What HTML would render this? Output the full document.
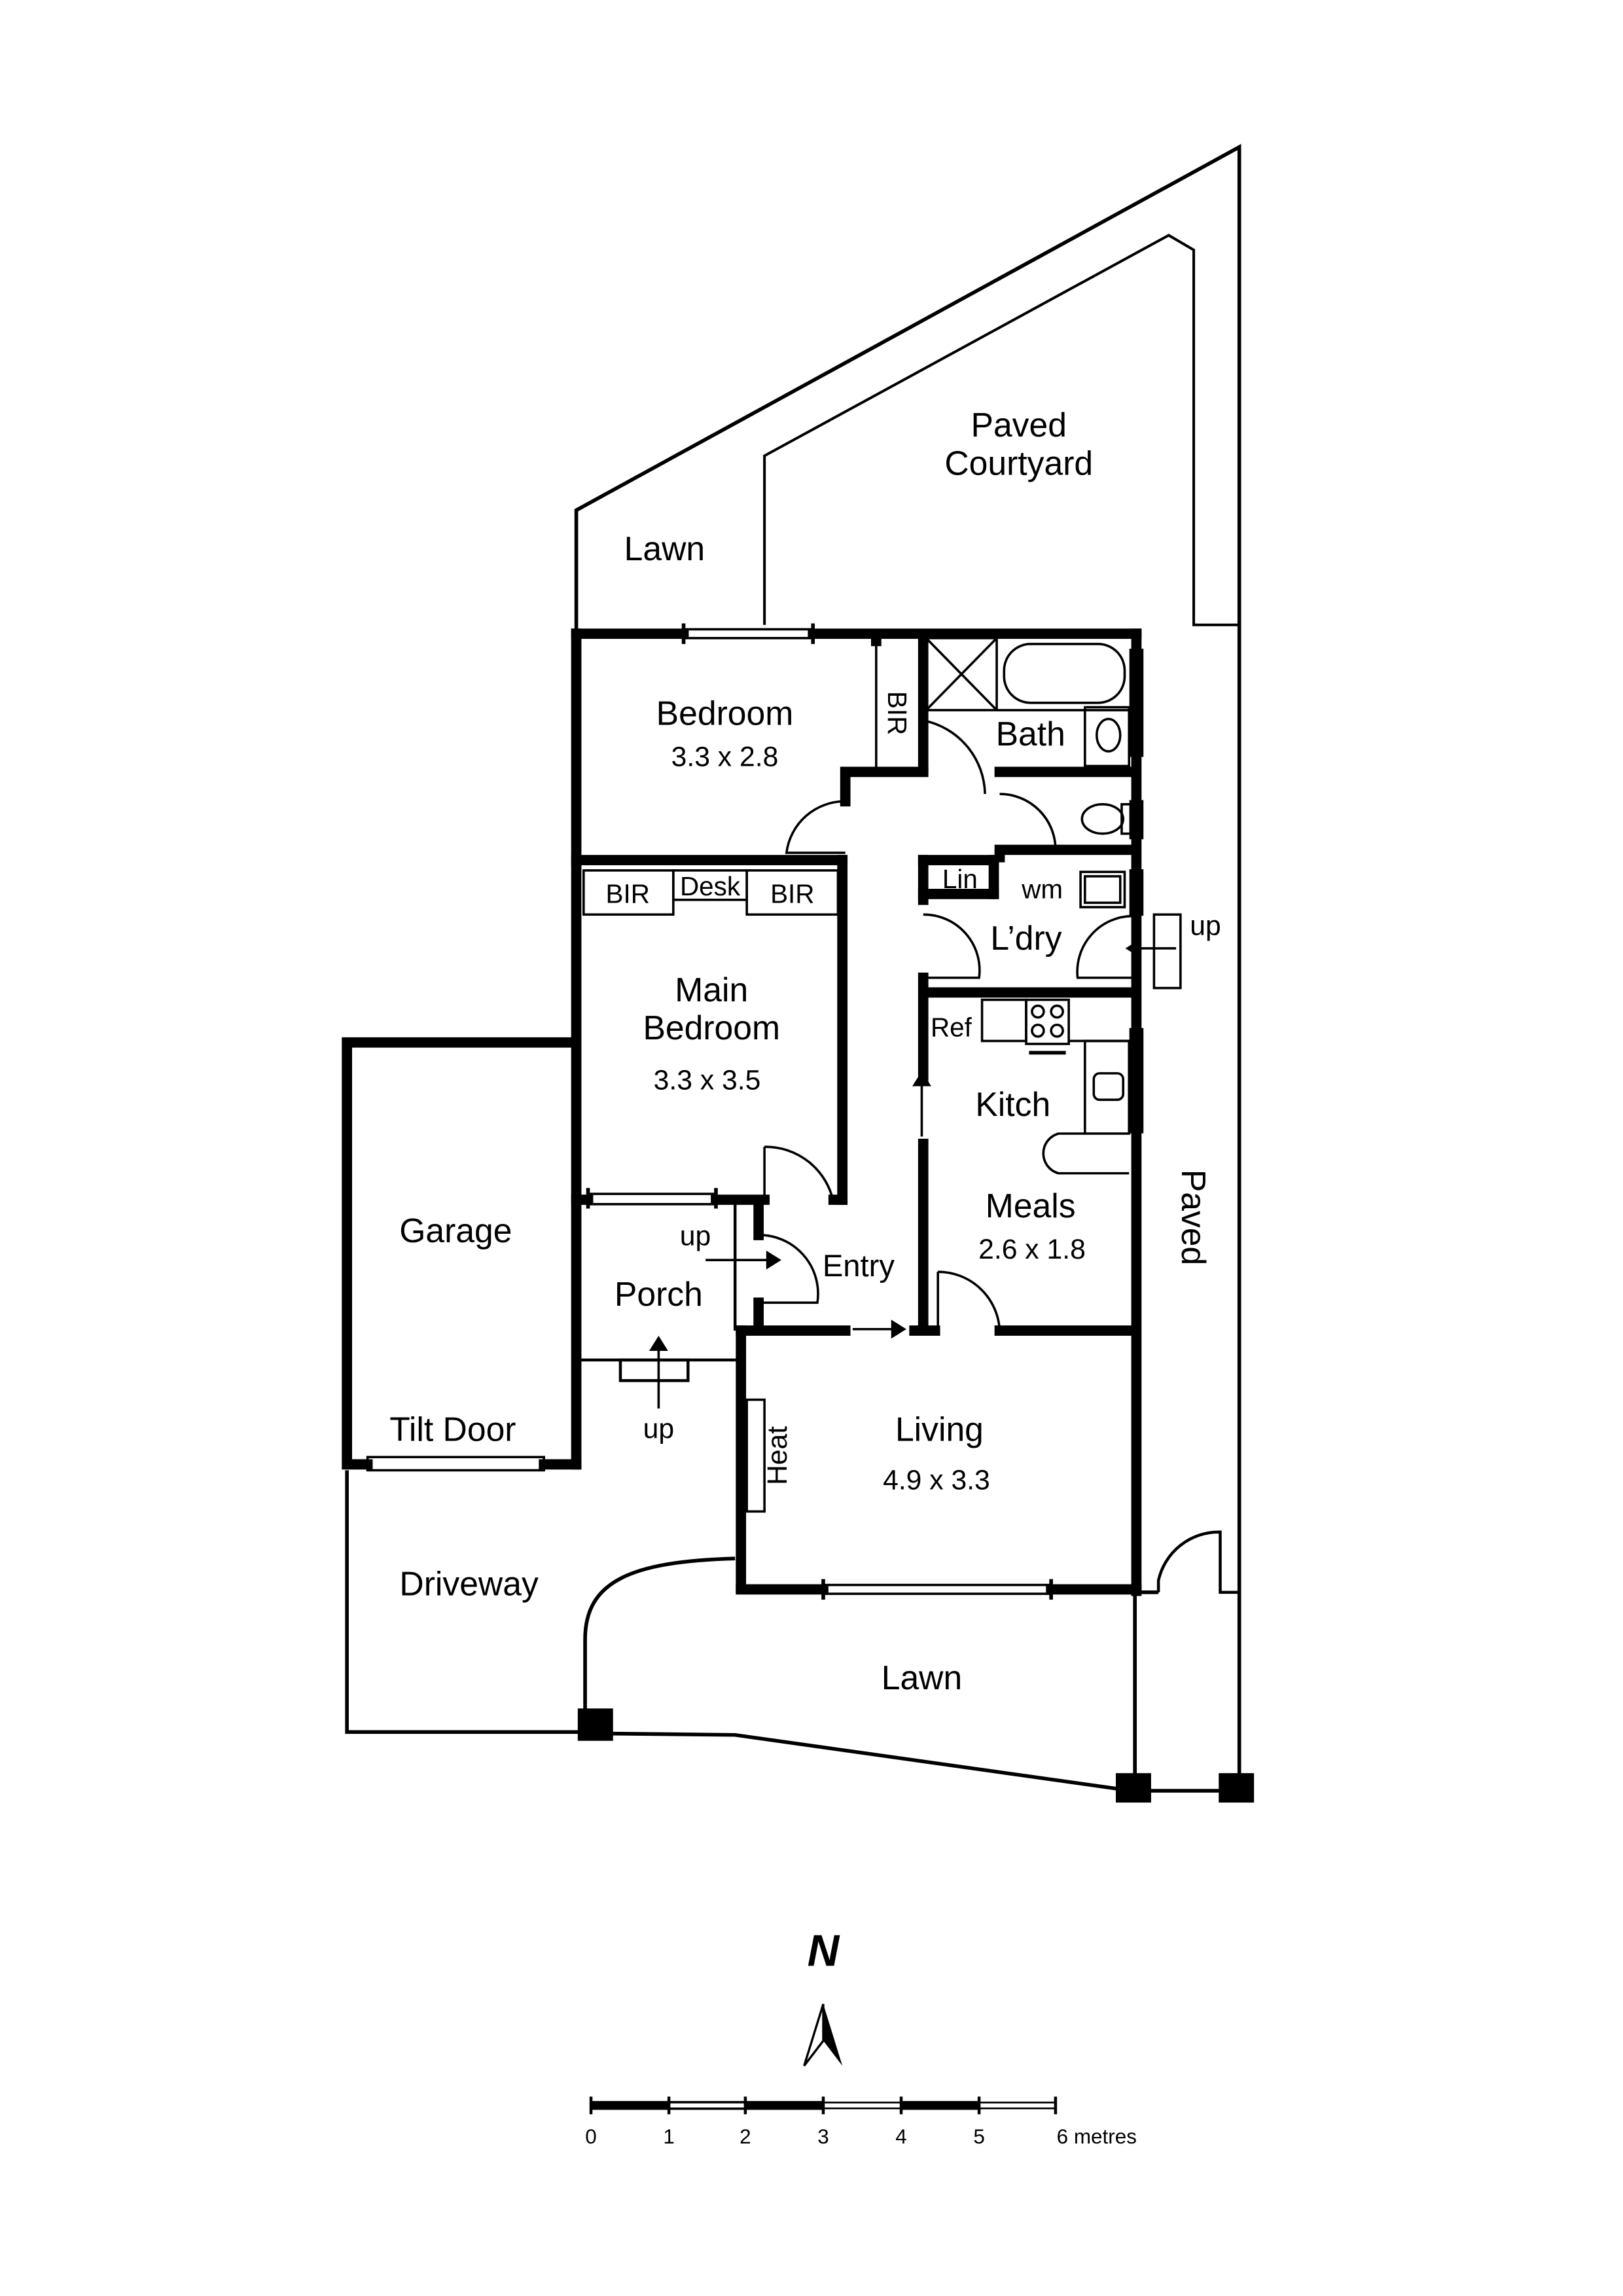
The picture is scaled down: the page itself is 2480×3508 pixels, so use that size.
<!DOCTYPE html>
<html><head><meta charset="utf-8"><style>
html,body{margin:0;padding:0;background:#fff}
svg{display:block}
text{font-family:"Liberation Sans",sans-serif;fill:#000}
</style></head><body>
<svg width="2480" height="3508" viewBox="0 0 1104 1561.6" xmlns="http://www.w3.org/2000/svg">
<rect width="1104" height="1561.6" fill="#fff"/>
<g fill="none" stroke="#000" stroke-width="2.5">
<!-- site boundary -->
<polyline points="392,430 392,347 843,100 843,1212"/>
<polyline points="520,425 520,310 795,160 812,170 812,425 843,425" stroke-width="1.8"/>
<polyline points="236,1000 236,1178 400,1178"/>
<polyline points="410,1179 500,1180 770,1218"/>
<line x1="775" y1="1218" x2="838" y2="1218"/>
<line x1="772" y1="1083" x2="772" y2="1212"/>
<path d="M500,1060 C430,1062 398,1075 398,1115 L398,1168"/>
<!-- lawn/door bottom right -->
<path d="M788,1083 L788,1075 A42,42 0 0 1 830,1042 L830,1083 L843,1083" stroke-width="2"/>
<line x1="773" y1="1083" x2="788" y2="1083"/>
<!-- porch -->
<line x1="395" y1="925" x2="503" y2="925" stroke-width="2"/>
<line x1="500" y1="818" x2="500" y2="905" stroke-width="2"/>
<rect x="422" y="925" width="46" height="14" stroke-width="2"/>
</g>
<!-- posts -->
<rect x="393" y="1162" width="24" height="22" fill="#000"/>
<rect x="759" y="1206" width="24" height="20" fill="#000"/>
<rect x="829" y="1206" width="24" height="20" fill="#000"/>
<!-- thick walls -->
<g stroke="#000" stroke-width="7" fill="none" stroke-linecap="square">
<line x1="392" y1="431" x2="465" y2="431"/><line x1="553" y1="431" x2="773" y2="431"/>
<line x1="392" y1="431" x2="392" y2="996"/>
<polyline points="392,996 370,996"/><polyline points="250,996 236,996 236,709 390,709"/>
<line x1="392" y1="585" x2="573" y2="585"/>
<line x1="573" y1="585" x2="573" y2="816"/><line x1="573" y1="816" x2="567" y2="816"/>
<line x1="392" y1="816" x2="400" y2="816"/><line x1="487" y1="816" x2="520" y2="816"/>
<line x1="520" y1="816" x2="520" y2="780" stroke-width="0"/>
<line x1="628" y1="433" x2="628" y2="522"/>
<polyline points="575,545 575,525 628,525"/>
<line x1="680" y1="525" x2="770" y2="525"/>
<line x1="773" y1="431" x2="773" y2="1082"/>
<polyline points="680,583 680,578 770,578"/>
<line x1="628" y1="585" x2="628" y2="612"/>
<line x1="628" y1="665" x2="628" y2="732"/>
<line x1="630" y1="675" x2="770" y2="675"/>
<line x1="628" y1="778" x2="628" y2="902"/>
<line x1="622" y1="905" x2="636" y2="905"/>
<line x1="680" y1="905" x2="770" y2="905"/>
<line x1="504" y1="905" x2="575" y2="905"/>
<line x1="504" y1="905" x2="504" y2="1080"/>
<line x1="504" y1="1081" x2="560" y2="1081"/><line x1="715" y1="1081" x2="773" y2="1081"/>
<line x1="516" y1="820" x2="516" y2="840"/><line x1="516" y1="886" x2="516" y2="903"/>
<line x1="628" y1="585" x2="676" y2="585"/><line x1="628" y1="608" x2="676" y2="608"/>
<line x1="676" y1="585" x2="676" y2="608"/>
<line x1="596" y1="433" x2="596" y2="436"/>
</g>
<g fill="none" stroke="#000" stroke-width="1.6">
<!-- windows -->
<rect x="465" y="428" width="88" height="6"/><line x1="465" y1="424" x2="465" y2="438" stroke-width="2.5"/><line x1="553" y1="424" x2="553" y2="438" stroke-width="2.5"/>
<rect x="250" y="991" width="120" height="9"/>
<rect x="400" y="812" width="87" height="7"/><line x1="400" y1="808" x2="400" y2="822" stroke-width="2.5"/><line x1="487" y1="808" x2="487" y2="822" stroke-width="2.5"/>
<rect x="560" y="1078" width="155" height="6"/><line x1="560" y1="1074" x2="560" y2="1088" stroke-width="2.5"/><line x1="715" y1="1074" x2="715" y2="1088" stroke-width="2.5"/>
<rect x="769" y="442" width="8" height="72"/><rect x="769" y="545" width="8" height="25"/><rect x="769" y="592" width="8" height="30"/><rect x="769" y="700" width="8" height="70"/>
<!-- BIR closet -->
<line x1="596" y1="433" x2="596" y2="522"/>
<!-- bath fixtures -->
<rect x="630" y="434" width="48" height="49"/><line x1="630" y1="434" x2="678" y2="483"/><line x1="678" y1="434" x2="630" y2="483"/>
<line x1="678" y1="483" x2="768" y2="483"/>
<rect x="683" y="438" width="82" height="40" rx="18"/>
<rect x="738" y="481" width="30" height="40"/><ellipse cx="754" cy="500" rx="8" ry="11"/>
<ellipse cx="750" cy="557" rx="14" ry="10"/><rect x="763" y="547" width="6" height="20"/>
<rect x="735" y="593" width="30" height="24"/><rect x="738" y="596" width="24" height="18"/>
<!-- doors -->
<path d="M575,545 A40,40 0 0 0 535,580 L575,580"/>
<path d="M628,490 A52,52 0 0 1 670,540"/>
<path d="M680,540 A38,38 0 0 1 718,578"/>
<path d="M628,622 A38,38 0 0 1 666,665 L628,665"/>
<path d="M770,623 A38,38 0 0 0 733,665 L770,665"/>
<path d="M520,780 A47,47 0 0 1 567,818 M520,780 L520,816"/>
<path d="M516,840 A40,40 0 0 1 556,886 L516,886"/>
<path d="M638,865 A42,42 0 0 1 680,905 M638,865 L638,905"/>
<!-- kitchen -->
<rect x="668" y="680" width="30" height="28"/><rect x="698" y="680" width="29" height="30"/>
<circle cx="706" cy="688" r="4"/><circle cx="719" cy="688" r="4"/><circle cx="706" cy="701" r="4"/><circle cx="719" cy="701" r="4"/>
<line x1="727" y1="708" x2="768" y2="708"/><line x1="700" y1="716" x2="725" y2="716" stroke-width="2.5"/>
<rect x="738" y="708" width="30" height="63"/><rect x="744" y="730" width="20" height="18" rx="4"/>
<path d="M738,771 L720,771 A14,14 0 0 0 720,798 L768,798"/>
<!-- BIR desk -->
<rect x="397" y="592" width="61" height="30"/><rect x="458" y="592" width="50" height="20"/><rect x="508" y="592" width="62" height="30"/>
<rect x="508" y="952" width="12" height="76"/>
<!-- steps -->
<rect x="785" y="622" width="18" height="50"/>
</g>
<!-- arrows -->
<g stroke="#000" stroke-width="1.6" fill="#000">
<line x1="627" y1="773" x2="627" y2="736"/><polygon points="622,738 632,738 627,730"/>
<line x1="580" y1="904" x2="608" y2="904"/><polygon points="607,899 607,909 615,904"/>
<line x1="480" y1="857" x2="524" y2="857"/><polygon points="522,852 522,862 530,857"/>
<line x1="448" y1="958" x2="448" y2="916"/><polygon points="443,918 453,918 448,910"/>
<line x1="800" y1="645" x2="773" y2="645"/><polygon points="775,640 775,650 767,645"/>
</g>
<!-- labels -->
<g font-size="23" text-anchor="middle">
<text x="693" y="297">Paved</text><text x="693" y="323">Courtyard</text>
<text x="452" y="381">Lawn</text>
<text x="493" y="493">Bedroom</text><text x="493" y="521" font-size="19">3.3 x 2.8</text>
<text x="701" y="507">Bath</text>
<text x="698" y="646">L’dry</text>
<text x="484" y="681">Main</text><text x="484" y="707">Bedroom</text><text x="481" y="741" font-size="19">3.3 x 3.5</text>
<text x="689" y="759">Kitch</text>
<text x="701" y="828">Meals</text><text x="702" y="856" font-size="19">2.6 x 1.8</text>
<text x="310" y="845">Garage</text>
<text x="584" y="868" font-size="21">Entry</text>
<text x="448" y="888">Porch</text>
<text x="639" y="980">Living</text><text x="637" y="1013" font-size="19">4.9 x 3.3</text>
<text x="308" y="980">Tilt Door</text>
<text x="319" y="1085">Driveway</text>
<text x="627" y="1149">Lawn</text>
<text x="473" y="847" font-size="19">up</text>
<text x="448" y="978" font-size="19">up</text>
<text x="820" y="636" font-size="19">up</text>
<text x="427" y="614" font-size="18">BIR</text><text x="483" y="609" font-size="18">Desk</text><text x="539" y="614" font-size="18">BIR</text>
<text x="653" y="604" font-size="18">Lin</text><text x="709" y="611" font-size="18">wm</text><text x="647" y="705" font-size="18">Ref</text>
<text transform="translate(604,485) rotate(90)" font-size="18">BIR</text>
<text transform="translate(804,828) rotate(90)" font-size="23">Paved</text>
<text transform="translate(535,990) rotate(-90)" font-size="19">Heat</text>
</g>
<!-- north -->
<text x="560" y="1337" font-size="30" font-weight="bold" font-style="italic" text-anchor="middle">N</text>
<polygon points="560,1363 573,1405 560,1388" fill="#000"/>
<polygon points="560,1363 547,1405 560,1388" fill="none" stroke="#000" stroke-width="1.5"/>
<!-- scale -->
<g stroke="#000">
<rect x="402" y="1429" width="105" height="6" fill="#000" stroke-width="0"/>
<rect x="507" y="1429" width="53" height="6" fill="#000" stroke-width="0"/>
<rect x="560" y="1430" width="53" height="4" fill="#fff" stroke-width="1.2"/>
<rect x="613" y="1429" width="53" height="6" fill="#000" stroke-width="0"/>
<rect x="666" y="1430" width="52" height="4" fill="#fff" stroke-width="1.2"/>
<rect x="455" y="1430" width="52" height="4" fill="#fff" stroke-width="1.2"/>
<g stroke-width="2"><line x1="402" y1="1426" x2="402" y2="1438"/><line x1="455" y1="1426" x2="455" y2="1438"/><line x1="507" y1="1426" x2="507" y2="1438"/><line x1="560" y1="1426" x2="560" y2="1438"/><line x1="613" y1="1426" x2="613" y2="1438"/><line x1="666" y1="1426" x2="666" y2="1438"/><line x1="718" y1="1426" x2="718" y2="1438"/></g>
</g>
<g font-size="14" text-anchor="middle"><text x="402" y="1458">0</text><text x="455" y="1458">1</text><text x="507" y="1458">2</text><text x="560" y="1458">3</text><text x="613" y="1458">4</text><text x="666" y="1458">5</text><text x="746" y="1458">6 metres</text></g>
</svg>
</body></html>
